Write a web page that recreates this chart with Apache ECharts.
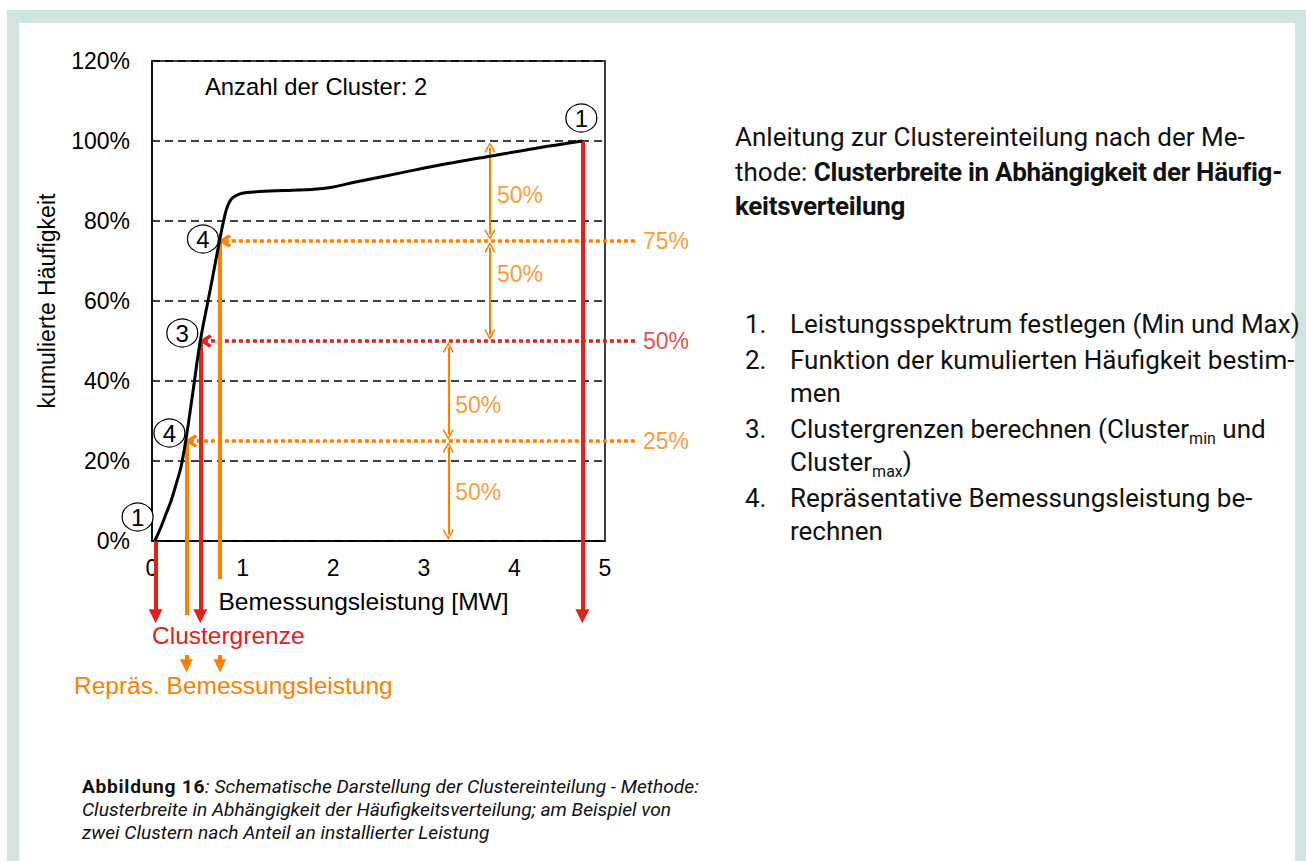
<!DOCTYPE html>
<html>
<head>
<meta charset="utf-8">
<title>Clustereinteilung</title>
<script src="https://cdn.jsdelivr.net/npm/echarts@6/dist/echarts.min.js"></script>
<style>
    html, body { margin: 0; padding: 0; background: #fff; }
    body { width: 1306px; height: 861px; position: relative; overflow: hidden; }
    #frame {
        position: absolute; left: 7px; top: 10px; width: 1299px; height: 851px;
        box-sizing: border-box;
        border-top: 13px solid #d0e4e2; border-left: 12px solid #d0e4e2; border-right: 11px solid #d0e4e2;
    }
    #chart { position: absolute; left: 0; top: 0; width: 1306px; height: 861px; }
    .txt { position: absolute; font-family: Roboto, sans-serif; color: #111; white-space: nowrap; }
    #intro { left: 735px; top: 120px; font-size: 26px; line-height: 34.5px; }
    #intro b { font-weight: 700; letter-spacing: -0.3px; }
    #steps { left: 745px; top: 308px; font-size: 26px; line-height: 33.5px; margin: 0; padding: 0; list-style: none; }
    #steps li { position: relative; padding-left: 45px; margin-bottom: 2px; }
    #steps li span.n { position: absolute; left: 0; }
    #steps sub { font-size: 16px; line-height: 0; vertical-align: -6px; }
    #caption { left: 82px; top: 775px; font-size: 19.2px; line-height: 23px; }
    #caption b { letter-spacing: 0.7px; }
</style>
</head>
<body>
<div id="frame"></div>
<div id="chart"></div>
<div id="intro" class="txt">Anleitung zur Clustereinteilung nach der Me-<br>thode: <b>Clusterbreite in Abhängigkeit der Häufig-<br>keitsverteilung</b></div>
<ol id="steps" class="txt">
    <li><span class="n">1.</span>Leistungsspektrum festlegen (Min und Max)</li>
    <li><span class="n">2.</span>Funktion der kumulierten Häufigkeit bestim-<br>men</li>
    <li><span class="n">3.</span>Clustergrenzen berechnen (Cluster<sub>min</sub> und<br>Cluster<sub>max</sub>)</li>
    <li><span class="n">4.</span>Repräsentative Bemessungsleistung be-<br>rechnen</li>
</ol>
<div id="caption" class="txt"><b>Abbildung 16</b><i>: Schematische Darstellung der Clustereinteilung - Methode:<br>Clusterbreite in Abhängigkeit der Häufigkeitsverteilung; am Beispiel von<br>zwei Clustern nach Anteil an installierter Leistung</i></div>
<script>
    // kumulierte Häufigkeit über der Bemessungsleistung [MW]
    var curveX = [0.03, 0.09, 0.15, 0.21, 0.27, 0.32, 0.372, 0.45, 0.533, 0.64, 0.745, 0.79,
        0.83, 0.88, 0.95, 1.05, 1.30, 1.55, 1.77, 1.97, 2.26, 2.76, 3.25, 3.73, 4.24, 4.75];
    var curveY = [0.00, 0.03, 0.065, 0.10, 0.145, 0.185, 0.25, 0.37, 0.50, 0.625, 0.75, 0.80,
        0.835, 0.856, 0.866, 0.871, 0.875, 0.877, 0.879, 0.884, 0.898, 0.921, 0.943, 0.962, 0.982, 1.00];

    // Clustergrenzen (Min, 50%-Grenze, Max)
    var boundX = [0.04, 0.533, 4.75];
    var boundY = [0, 0.5, 1.0];

    // repräsentative Bemessungsleistung je Cluster
    var reprX = [0.38, 0.75];
    var reprY = [0.25, 0.75];

    // Quantile mit Beschriftung rechts
    var levelY = [0.25, 0.5, 0.75];
    var levelText = ['25%', '50%', '75%'];

    // 50%-Spannen innerhalb der Cluster
    var spanX = [3.73, 3.73, 3.27, 3.27];
    var spanFrom = [1.0, 0.75, 0.5, 0.25];
    var spanTo = [0.75, 0.5, 0.25, 0];
    var spanText = ['50%', '50%', '50%', '50%'];

    var RED = '#e3201b';
    var ORANGE = '#ff8000';
    var FONT = 'Liberation Sans, Arial, sans-serif';

    // chevron symbols (point up, rotated along the line by echarts)
    var CHEV_THICK = 'path://M6,0 L12,7 L10,9 L6,4.2 L2,9 L0,7 Z';
    var CHEV_THIN = 'path://M6,0 L12,8 L10.8,9 L6,2.6 L1.2,9 L0,8 Z';

    // layout helpers (data units)
    var DOT_END_X = 5.33;      // right end of dotted quantile lines
    var RED_END_Y = -0.188;    // arrow heads below the axis
    var REPR_END_Y = [-0.185, -0.095];
    var SMALL_ARROW = [-0.285, -0.312];
    var PAD_X = 0.06, PAD_Y = 0.016;

    function xAtLevel(level) {
        for (var i = 1; i < curveY.length; i++) {
            if (curveY[i] >= level) {
                var t = (level - curveY[i - 1]) / (curveY[i] - curveY[i - 1]);
                return curveX[i - 1] + t * (curveX[i] - curveX[i - 1]);
            }
        }
        return curveX[curveX.length - 1];
    }

    function dotted(color, levels) {
        return {
            type: 'lines', coordinateSystem: 'cartesian2d', clip: false, z: 3,
            symbol: ['none', CHEV_THICK], symbolSize: 13,
            lineStyle: { color: color, width: 3.5, type: [4, 3], opacity: 1 },
            data: levels.map(function (lv) {
                return { coords: [[DOT_END_X, lv], [xAtLevel(lv) + PAD_X, lv]] };
            })
        };
    }

    var curveData = curveX.map(function (x, i) { return [x, curveY[i]]; });

    var stepMarks = [
        { name: '1', value: [boundX[0], boundY[0]], symbolOffset: [-18, -24] },
        { name: '1', value: [boundX[2], boundY[2]], symbolOffset: [-1, -23] },
        { name: '3', value: [boundX[1], boundY[1]], symbolOffset: [-18, -8] },
        { name: '4', value: [reprX[0], reprY[0]], symbolOffset: [-17, -8] },
        { name: '4', value: [reprX[1], reprY[1]], symbolOffset: [-17, -2] }
    ];

    var spanLabelShift = [4, -17, 14, 1];

    var option = {
        animation: false,
        backgroundColor: 'transparent',
        textStyle: { fontFamily: FONT, color: '#000' },
        grid: {
            left: 152, top: 61, width: 453, height: 480,
            show: true, borderColor: '#000', borderWidth: 1.5, backgroundColor: 'transparent'
        },
        xAxis: {
            type: 'value', min: 0, max: 5, interval: 1,
            axisLine: { show: true, onZero: false, lineStyle: { color: '#000', width: 1.5 } },
            axisTick: { show: false },
            splitLine: { show: false },
            axisLabel: { fontSize: 23, color: '#000', margin: 15, fontFamily: FONT },
            name: 'Bemessungsleistung [MW]', nameLocation: 'middle', nameGap: 48,
            nameTextStyle: { fontSize: 24.5, color: '#000', fontFamily: FONT, padding: [0, 30, 0, 0] }
        },
        yAxis: {
            type: 'value', min: 0, max: 1.2, interval: 0.2,
            axisLine: { show: true, lineStyle: { color: '#000', width: 1.5 } },
            axisTick: { show: false },
            splitLine: { show: true, lineStyle: { color: '#000', width: 1.5, type: [8, 5] } },
            axisLabel: {
                fontSize: 23, color: '#000', margin: 22, fontFamily: FONT,
                formatter: function (v) { return Math.round(v * 100) + '%'; }
            },
            name: 'kumulierte Häufigkeit', nameLocation: 'middle', nameGap: 94,
            nameTextStyle: { fontSize: 23, color: '#000', fontFamily: FONT }
        },
        graphic: [
            { type: 'text', left: 205, top: 74, style: { text: 'Anzahl der Cluster: 2', font: '23.8px ' + FONT, fill: '#000' } },
            { type: 'text', left: 152, top: 623, style: { text: 'Clustergrenze', font: '24.5px ' + FONT, fill: RED } },
            { type: 'text', left: 74, top: 673, style: { text: 'Repräs. Bemessungsleistung', font: '24.5px ' + FONT, fill: ORANGE } }
        ],
        series: [
            dotted(ORANGE, [levelY[0], levelY[2]]),
            dotted(RED, [levelY[1]]),
            {
                // 50%-Spannen (Doppelpfeile)
                type: 'lines', coordinateSystem: 'cartesian2d', clip: false, z: 3,
                symbol: [CHEV_THIN, CHEV_THIN], symbolSize: 11,
                lineStyle: { color: ORANGE, width: 2, opacity: 1 },
                data: spanX.map(function (x, i) {
                    return { coords: [[x, spanFrom[i] - PAD_Y], [x, spanTo[i] + PAD_Y]] };
                })
            },
            {
                // repräsentative Leistung: senkrechte Linien
                type: 'lines', coordinateSystem: 'cartesian2d', clip: false, z: 4,
                symbol: 'none',
                lineStyle: { color: ORANGE, width: 4, opacity: 1 },
                data: reprX.map(function (x, i) {
                    return { coords: [[x, reprY[i]], [x, REPR_END_Y[i]]] };
                })
            },
            {
                // kleine Pfeile über "Repräs. Bemessungsleistung"
                type: 'lines', coordinateSystem: 'cartesian2d', clip: false, z: 4,
                symbol: ['none', 'triangle'], symbolSize: 13,
                lineStyle: { color: ORANGE, width: 4, opacity: 1 },
                data: reprX.map(function (x) {
                    return { coords: [[x, SMALL_ARROW[0]], [x, SMALL_ARROW[1]]] };
                })
            },
            {
                // Clustergrenzen: rote Pfeile
                type: 'lines', coordinateSystem: 'cartesian2d', clip: false, z: 5,
                symbol: ['none', 'triangle'], symbolSize: 14,
                lineStyle: { color: RED, width: 4, opacity: 1 },
                data: boundX.map(function (x, i) {
                    return { coords: [[x, boundY[i]], [x, RED_END_Y]] };
                })
            },
            {
                type: 'line', name: 'kumulierte Häufigkeit', data: curveData,
                showSymbol: false, smooth: 0.4, clip: false, z: 6,
                lineStyle: { color: '#000', width: 3 }
            },
            {
                type: 'scatter', clip: false, symbolSize: 0, z: 7,
                data: levelY.map(function (lv, i) {
                    return {
                        value: [DOT_END_X, lv],
                        label: { color: i === 1 ? RED : ORANGE }
                    };
                }),
                label: {
                    show: true, position: 'right', distance: 8, fontSize: 23, fontFamily: FONT,
                    formatter: function (p) { return levelText[p.dataIndex]; }
                }
            },
            {
                type: 'scatter', clip: false, symbolSize: 0, z: 7,
                data: spanX.map(function (x, i) {
                    return {
                        value: [x, (spanFrom[i] + spanTo[i]) / 2],
                        label: { offset: [0, spanLabelShift[i]] }
                    };
                }),
                label: {
                    show: true, position: 'right', distance: 7, fontSize: 23, fontFamily: FONT, color: ORANGE,
                    formatter: function (p) { return spanText[p.dataIndex]; }
                }
            },
            {
                type: 'scatter', clip: false, z: 8,
                symbol: 'circle', symbolSize: [31, 28],
                itemStyle: { color: '#fff', borderColor: '#000', borderWidth: 1.2, opacity: 1 },
                label: {
                    show: true, position: 'inside', fontSize: 24, color: '#000', fontFamily: FONT,
                    formatter: '{b}'
                },
                data: stepMarks
            }
        ]
    };

    var chart = echarts.init(document.getElementById('chart'), null, { renderer: 'svg' });
    chart.setOption(option);
</script>
</body>
</html>
